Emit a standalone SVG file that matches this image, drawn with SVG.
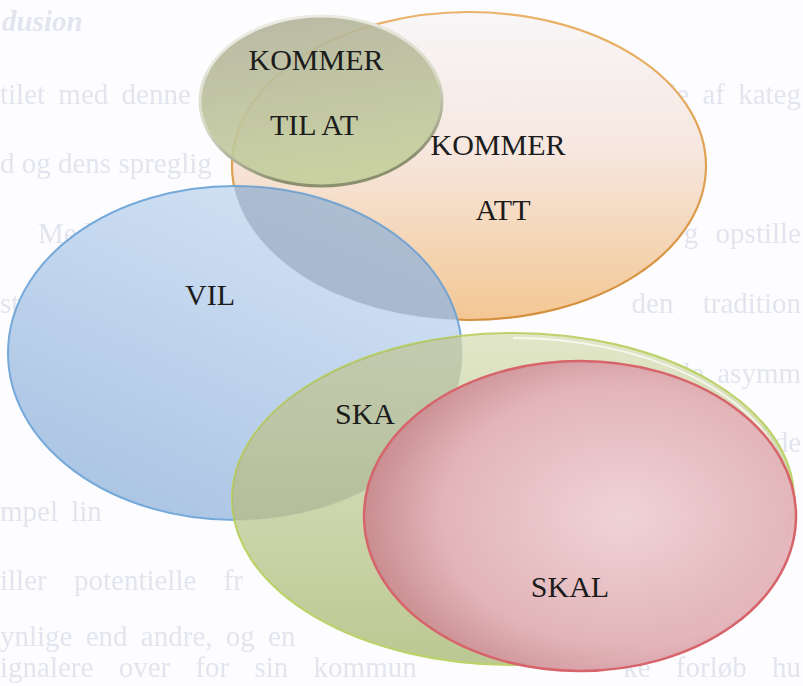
<svg xmlns="http://www.w3.org/2000/svg" width="803" height="686" viewBox="0 0 803 686">
<style>
.bg{font-family:"Liberation Serif","Times New Roman",serif;font-size:29px;fill:#e3e5ee}
.lbl{font-family:"Liberation Serif","Times New Roman",serif;font-size:30px;fill:#1c1c1c;text-anchor:middle}
</style>
<defs>
<linearGradient id="gOrange" x1="0" y1="0" x2="0" y2="1">
<stop offset="0" stop-color="#f8f6f8"/>
<stop offset="0.45" stop-color="#f6e6de"/>
<stop offset="1" stop-color="#f3c58f"/>
</linearGradient>
<linearGradient id="sOrange" x1="0" y1="0" x2="0" y2="1">
<stop offset="0" stop-color="#eab36a"/>
<stop offset="1" stop-color="#d38f3c"/>
</linearGradient>
<linearGradient id="gGreenS" x1="0" y1="0" x2="0.2" y2="1">
<stop offset="0" stop-color="#b2b19b"/>
<stop offset="1" stop-color="#c4cf9c"/>
</linearGradient>
<linearGradient id="sGreenS" x1="0" y1="0" x2="0.3" y2="1">
<stop offset="0" stop-color="#f0f0ea"/>
<stop offset="0.6" stop-color="#d8dac8"/>
<stop offset="1" stop-color="#8b8f6e"/>
</linearGradient>
<linearGradient id="gBlue" x1="0.8" y1="0" x2="0.2" y2="1">
<stop offset="0" stop-color="#d3e3f5"/>
<stop offset="1" stop-color="#a6c1e2"/>
</linearGradient>
<linearGradient id="gGreenB" x1="0" y1="0" x2="0" y2="1">
<stop offset="0" stop-color="#dfe4c4"/>
<stop offset="1" stop-color="#b6c389"/>
</linearGradient>
<radialGradient id="gRed" cx="0.6" cy="0.5" r="0.6">
<stop offset="0" stop-color="#f1d3d8"/>
<stop offset="0.7" stop-color="#e3b3b9"/>
<stop offset="1" stop-color="#c98a90"/>
</radialGradient>
<filter id="soft" x="-5%" y="-20%" width="110%" height="140%"><feGaussianBlur stdDeviation="0.6"/></filter>
<clipPath id="cOrange"><ellipse cx="469" cy="166" rx="237" ry="154"/></clipPath>
<clipPath id="cBlue"><ellipse cx="235" cy="353" rx="227" ry="167"/></clipPath>
</defs>
<rect width="803" height="686" fill="#fdfdff"/>
<g id="background-text" filter="url(#soft)">
<text class="bg" x="2" y="31" font-weight="bold" font-style="italic">dusion</text>
<text class="bg" x="0" y="104" word-spacing="6">tilet med denne a</text>
<text class="bg" x="801" y="104" text-anchor="end" word-spacing="6">et helhedsbillede af kateg</text>
<text class="bg" x="0" y="173">d og dens spreglig</text>
<text class="bg" x="38" y="243">Med</text>
<text class="bg" x="801" y="243" text-anchor="end" word-spacing="10">g opstille</text>
<text class="bg" x="0" y="313" word-spacing="12">stisk relevant</text>
<text class="bg" x="801" y="313" text-anchor="end" word-spacing="22">den tradition</text>
<text class="bg" x="801" y="383" text-anchor="end" word-spacing="6">orale asymm</text>
<text class="bg" x="801" y="452" text-anchor="end">ledede</text>
<text class="bg" x="0" y="521" word-spacing="6">mpel lin</text>
<text class="bg" x="0" y="590" word-spacing="20">iller potentielle fr</text>
<text class="bg" x="0" y="646" word-spacing="6">ynlige end andre, og en</text>
<text class="bg" x="0" y="677" word-spacing="18">ignalere over for sin kommun</text>
<text class="bg" x="801" y="677" text-anchor="end" word-spacing="18">ke forløb hu</text>
</g>
<g id="node-kommer-att">
<ellipse cx="469" cy="166" rx="237" ry="154" fill="url(#gOrange)" fill-opacity="0.96" stroke="url(#sOrange)" stroke-width="2.2"/>
</g>
<g id="node-kommer-til-at">
<ellipse cx="321" cy="101" rx="121" ry="85" fill="url(#gGreenS)" fill-opacity="0.9" stroke="url(#sGreenS)" stroke-width="3"/>
</g>
<g id="node-vil">
<ellipse cx="235" cy="353" rx="227" ry="167" fill="url(#gBlue)" fill-opacity="0.96" stroke="#74a9da" stroke-width="2"/>
<ellipse cx="235" cy="353" rx="227" ry="167" fill="#7e92ab" fill-opacity="0.45" clip-path="url(#cOrange)"/>
</g>
<g id="node-ska">
<ellipse cx="513" cy="499" rx="281" ry="166" fill="url(#gGreenB)" fill-opacity="0.92" stroke="#bcd26a" stroke-width="2.2"/>
<ellipse cx="513" cy="499" rx="281" ry="166" fill="#8a957a" fill-opacity="0.3" clip-path="url(#cBlue)"/>
<path d="M 513 338 A 276 161 0 0 1 785 471" fill="none" stroke="#ffffff" stroke-opacity="0.7" stroke-width="1.8"/>
</g>
<g id="node-skal">
<ellipse cx="580" cy="516" rx="216" ry="155" fill="url(#gRed)" fill-opacity="0.96" stroke="#d7646b" stroke-width="2.5"/>
</g>
<g id="labels">
<text class="lbl" x="316" y="70">KOMMER</text>
<text class="lbl" x="314" y="135">TIL AT</text>
<text class="lbl" x="498" y="155">KOMMER</text>
<text class="lbl" x="503" y="220">ATT</text>
<text class="lbl" x="210" y="305">VIL</text>
<text class="lbl" x="365" y="424">SKA</text>
<text class="lbl" x="570" y="597">SKAL</text>
</g>
<g id="connectors"/>
</svg>
